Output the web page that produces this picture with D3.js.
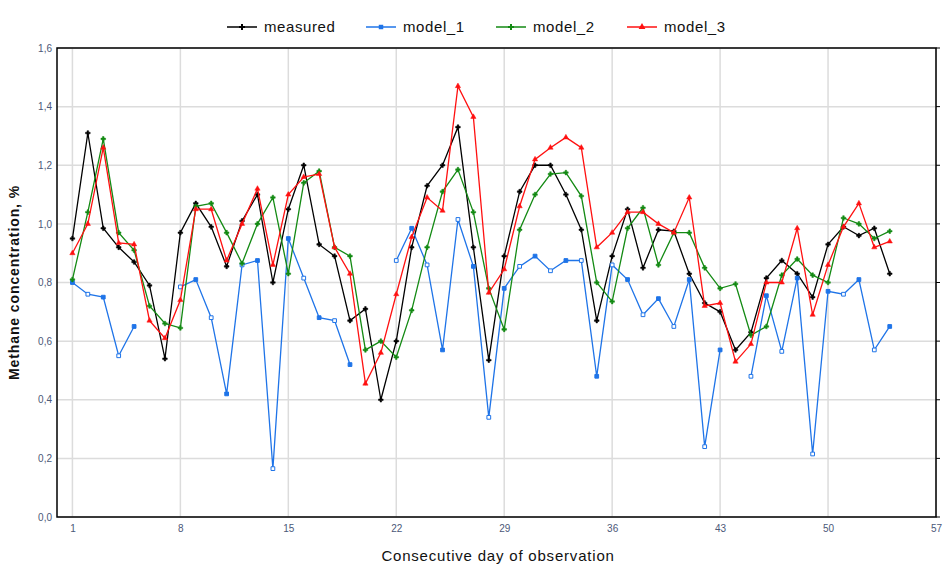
<!DOCTYPE html>
<html>
<head>
<meta charset="utf-8">
<script src="https://cdn.jsdelivr.net/npm/d3@7"></script>
<style>
  body { margin: 0; background: #fff; }
  text { font-family: "Liberation Sans", Arial, sans-serif; }
</style>
</head>
<body>
<div id="chart-area"></div>
<script>
const SVG_WIDTH = 943;
const SVG_HEIGHT = 574;

const margin = { left: 57, right: 5, top: 48, bottom: 57 };
const width = SVG_WIDTH - margin.left - margin.right;
const height = SVG_HEIGHT - margin.top - margin.bottom;

// data, days 1..54
const days = d3.range(1, 55);
const measured = [0.95, 1.31, 0.985, 0.92, 0.87, 0.79, 0.54, 0.97, 1.07, 0.99, 0.855, 1.01,
  1.10, 0.80, 1.05, 1.20, 0.93, 0.89, 0.67, 0.71, 0.40, 0.60, 0.92, 1.13, 1.20, 1.33,
  0.92, 0.535, 0.89, 1.11, 1.20, 1.20, 1.10, 0.98, 0.67, 0.89, 1.05, 0.85, 0.98, 0.975,
  0.83, 0.73, 0.70, 0.57, 0.63, 0.815, 0.875, 0.83, 0.75, 0.93, 0.99, 0.96, 0.985, 0.83];
const model1 = [0.80, 0.76, 0.75, 0.55, 0.65, null, null, 0.785, 0.81, 0.68, 0.42, 0.86,
  0.875, 0.165, 0.95, 0.815, 0.68, 0.67, 0.52, null, null, 0.875, 0.985, 0.86, 0.57, 1.015,
  0.855, 0.34, 0.78, 0.855, 0.89, 0.84, 0.875, 0.875, 0.48, 0.86, 0.81, 0.69, 0.745, 0.65,
  0.81, 0.24, 0.57, null, 0.48, 0.755, 0.565, 0.815, 0.215, 0.77, 0.76, 0.81, 0.57, 0.65];
const model2 = [0.81, 1.04, 1.29, 0.97, 0.91, 0.72, 0.66, 0.645, 1.06, 1.07, 0.97, 0.865,
  1.00, 1.09, 0.83, 1.14, 1.18, 0.92, 0.89, 0.57, 0.60, 0.545, 0.705, 0.92, 1.11, 1.185,
  1.04, 0.78, 0.64, 0.98, 1.10, 1.17, 1.175, 1.095, 0.80, 0.735, 0.985, 1.055, 0.86, 0.97,
  0.97, 0.85, 0.78, 0.795, 0.62, 0.65, 0.825, 0.88, 0.825, 0.80, 1.02, 1.00, 0.95, 0.975];
const model3 = [0.90, 1.00, 1.26, 0.935, 0.93, 0.67, 0.61, 0.74, 1.05, 1.05, 0.875, 1.00,
  1.12, 0.86, 1.10, 1.16, 1.17, 0.92, 0.83, 0.455, 0.56, 0.76, 0.955, 1.09, 1.045, 1.47,
  1.365, 0.765, 0.845, 1.06, 1.22, 1.26, 1.295, 1.26, 0.92, 0.97, 1.04, 1.04, 1.00, 0.97,
  1.09, 0.72, 0.73, 0.53, 0.59, 0.80, 0.80, 0.985, 0.69, 0.86, 0.99, 1.07, 0.92, 0.94];

const seriesNames = ["measured", "model_1", "model_2", "model_3"];
const seriesValues = [measured, model1, model2, model3];
const xTicks = [1, 8, 15, 22, 29, 36, 43, 50, 57];
const yTicks = [0, 0.2, 0.4, 0.6, 0.8, 1.0, 1.2, 1.4, 1.6];

const colors = ["#000000", "#1f74e8", "#138a13", "#ff1010"];
const symbols = [d3.symbolCross, d3.symbolSquare, d3.symbolCross, d3.symbolTriangle];

const svg = d3.select("#chart-area").append("svg")
  .attr("width", SVG_WIDTH).attr("height", SVG_HEIGHT);
const group = svg.append("g").attr("transform", `translate(${margin.left},${margin.top})`);

const x = d3.scaleLinear().domain([0, 57]).range([0, width - 2]);
const y = d3.scaleLinear().domain([0, 1.6]).range([height, 0]);

// grid
group.append("g").selectAll("line").data(xTicks).join("line")
  .attr("x1", d => x(d)).attr("x2", d => x(d))
  .attr("y1", 0).attr("y2", height)
  .attr("stroke", "#dcdcdc").attr("stroke-width", 1.5);
group.append("g").selectAll("line").data(yTicks).join("line")
  .attr("x1", 0).attr("x2", x(57))
  .attr("y1", d => y(d)).attr("y2", d => y(d))
  .attr("stroke", "#dcdcdc").attr("stroke-width", 1.5);

// frame
group.append("rect")
  .attr("x", 0).attr("y", 0).attr("width", x(57)).attr("height", height)
  .attr("fill", "none").attr("stroke", "#000").attr("stroke-width", 1.5);

// right side small ticks
group.append("g").selectAll("line").data(yTicks).join("line")
  .attr("x1", x(57)).attr("x2", x(57) + 4)
  .attr("y1", d => y(d)).attr("y2", d => y(d))
  .attr("stroke", "#000").attr("stroke-width", 1);

// axes
const fmt = d3.format(".1f");
const yAxisCall = d3.axisLeft(y).tickValues(yTicks).tickSize(0).tickPadding(5)
  .tickFormat(d => fmt(d).replace(".", ","));
const yAxisGroup = group.append("g").call(yAxisCall);
yAxisGroup.select(".domain").remove();
yAxisGroup.selectAll("text").attr("font-size", "10px").attr("fill", "#4b5878")
  .style("font-family", "'Liberation Sans Narrow', 'Liberation Sans', Arial, sans-serif");

const xAxisCall = d3.axisBottom(x).tickValues(xTicks).tickSize(0).tickPadding(8);
const xAxisGroup = group.append("g").attr("transform", `translate(0, ${height})`).call(xAxisCall);
xAxisGroup.select(".domain").remove();
xAxisGroup.selectAll("text").attr("font-size", "10px").attr("fill", "#4b5878")
  .style("font-family", "'Liberation Sans Narrow', 'Liberation Sans', Arial, sans-serif");

// labels
group.append("text")
  .attr("x", x(28.6)).attr("y", height + 44)
  .attr("font-size", "15px").attr("text-anchor", "middle").attr("fill", "#111")
  .attr("letter-spacing", "0.8px")
  .text("Consecutive day of observation");

group.append("text")
  .attr("transform", `translate(-38, ${y(0.8)}) rotate(-90)`)
  .attr("font-size", "14px").attr("font-weight", "bold").attr("text-anchor", "middle")
  .attr("letter-spacing", "0.9px")
  .attr("fill", "#111")
  .text("Methane concentration, %");

// lines
const line = d3.line()
  .defined(d => d.v !== null)
  .x(d => x(d.day)).y(d => y(d.v));

seriesValues.forEach((vals, i) => {
  const pts = days.map((day, j) => ({ day: day, v: vals[j] }));
  const g = group.append("g");
  g.append("path").datum(pts)
    .attr("d", line)
    .attr("fill", "none").attr("stroke", colors[i]).attr("stroke-width", 1.3);
  g.selectAll("path.m").data(pts.filter(d => d.v !== null)).join("path")
    .attr("class", "m")
    .attr("transform", d => `translate(${x(d.day)},${y(d.v)})`)
    .attr("d", d3.symbol().type(symbols[i]).size(i === 1 ? 14 : 12))
    .attr("fill", (d, j) => (i === 1 && j % 2 === 1) ? "#fff" : colors[i])
    .attr("stroke", colors[i]).attr("stroke-width", i === 1 ? 1 : 0.5);
});

// legend
const legendX = [227, 366, 496, 627];
const legend = svg.append("g").attr("transform", "translate(0, 27)");
seriesNames.forEach((name, i) => {
  const row = legend.append("g").attr("transform", `translate(${legendX[i]}, 0)`);
  row.append("line")
    .attr("x1", 0).attr("x2", 30).attr("y1", 0).attr("y2", 0)
    .attr("stroke", colors[i]).attr("stroke-width", 1.5);
  row.append("path")
    .attr("transform", "translate(15,0)")
    .attr("d", d3.symbol().type(symbols[i]).size(20))
    .attr("fill", colors[i]);
  row.append("text")
    .attr("x", 37).attr("y", 5)
    .attr("font-size", "15px").attr("fill", "#111")
    .attr("letter-spacing", "0.6px")
    .text(name);
});
</script>
</body>
</html>
